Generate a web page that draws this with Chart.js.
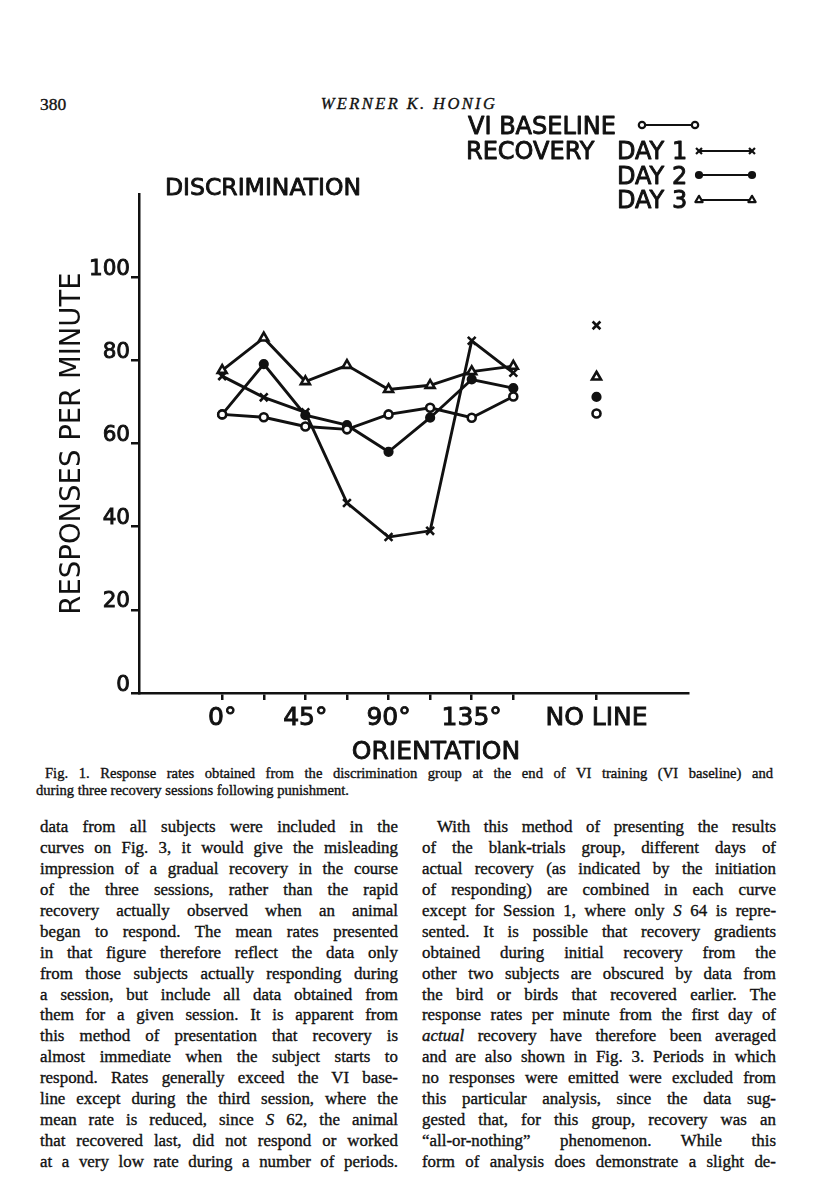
<!DOCTYPE html>
<html><head><meta charset="utf-8">
<script src="https://cdn.jsdelivr.net/npm/chart.js@4.4.1/dist/chart.umd.min.js"></script>
<style>
html,body{margin:0;padding:0;background:#fff;}
body{width:816px;height:1200px;position:relative;overflow:hidden;font-family:"Liberation Serif","Times New Roman",serif;color:#111;-webkit-text-stroke:0.35px #111;}
#wrap{position:absolute;left:0;top:0;width:816px;height:800px;z-index:2;}
.hdr{position:absolute;top:94px;font-size:17px;line-height:20px;}
#pg{left:40px;font-size:17.5px;}
#au{left:0;width:818px;text-align:center;font-style:italic;letter-spacing:2.4px;font-size:16.5px;}
#cap{position:absolute;left:36px;top:765px;width:737px;font-size:14.6px;line-height:17px;}
.col{position:absolute;top:817px;font-size:16.9px;line-height:20.93px;}
.ln{white-space:nowrap;text-align:justify;text-align-last:justify;}
#lc{left:40px;width:358px;}
#rc{left:422px;width:354px;}
</style></head>
<body>
<div class="hdr" id="pg">380</div>
<div class="hdr" id="au">WERNER K. HONIG</div>
<div id="wrap"><canvas id="c" width="816" height="800"></canvas></div>
<div id="cap">
<div class="ln" style="padding-left:9px">Fig. 1. Response rates obtained from the discrimination group at the end of VI training (VI baseline) and</div>
<div>during three recovery sessions following punishment.</div>
</div>
<div class="col" id="lc">
<div class="ln">data from all subjects were included in the</div>
<div class="ln">curves on Fig. 3, it would give the misleading</div>
<div class="ln">impression of a gradual recovery in the course</div>
<div class="ln">of the three sessions, rather than the rapid</div>
<div class="ln">recovery actually observed when an animal</div>
<div class="ln">began to respond. The mean rates presented</div>
<div class="ln">in that figure therefore reflect the data only</div>
<div class="ln">from those subjects actually responding during</div>
<div class="ln">a session, but include all data obtained from</div>
<div class="ln">them for a given session. It is apparent from</div>
<div class="ln">this method of presentation that recovery is</div>
<div class="ln">almost immediate when the subject starts to</div>
<div class="ln">respond. Rates generally exceed the VI base-</div>
<div class="ln">line except during the third session, where the</div>
<div class="ln">mean rate is reduced, since <i>S</i> 62, the animal</div>
<div class="ln">that recovered last, did not respond or worked</div>
<div class="ln">at a very low rate during a number of periods.</div>
</div>
<div class="col" id="rc">
<div class="ln" style="padding-left:15px">With this method of presenting the results</div>
<div class="ln">of the blank-trials group, different days of</div>
<div class="ln">actual recovery (as indicated by the initiation</div>
<div class="ln">of responding) are combined in each curve</div>
<div class="ln">except for Session 1, where only <i>S</i> 64 is repre-</div>
<div class="ln">sented. It is possible that recovery gradients</div>
<div class="ln">obtained during initial recovery from the</div>
<div class="ln">other two subjects are obscured by data from</div>
<div class="ln">the bird or birds that recovered earlier. The</div>
<div class="ln">response rates per minute from the first day of</div>
<div class="ln"><i>actual</i> recovery have therefore been averaged</div>
<div class="ln">and are also shown in Fig. 3. Periods in which</div>
<div class="ln">no responses were emitted were excluded from</div>
<div class="ln">this particular analysis, since the data sug-</div>
<div class="ln">gested that, for this group, recovery was an</div>
<div class="ln">“all-or-nothing” phenomenon. While this</div>
<div class="ln">form of analysis does demonstrate a slight de-</div>
</div>
<script>
// ---- data ----
const orientations = ['0°','22.5°','45°','67.5°','90°','112.5°','135°','157.5°','NO LINE'];
const positions    = [0, 1, 2, 3, 4, 5, 6, 7, 9];
const tickPositions = [0, 1, 2, 3, 4, 5, 6, 7, 9];
const tickLabels = {0:'0°', 2:'45°', 4:'90°', 6:'135°', 9:'NO LINE'};
const yTicks = [0, 20, 40, 60, 80, 100];
const viBaseline = [67.0, 66.3, 64.1, 63.4, 67.0, 68.6, 66.2, 71.3, 67.2];
const day1       = [76.2, 71.1, 67.5, 45.7, 37.5, 39.0, 84.7, 77.0, 88.4];
const day2       = [67.0, 79.1, 66.8, 64.4, 58.0, 66.2, 75.4, 73.3, 71.2];
const day3       = [77.6, 85.4, 74.9, 78.8, 73.0, 74.0, 77.3, 78.6, 76.0];
const legendLabels = ['VI BASELINE', 'DAY 1', 'DAY 2', 'DAY 3'];
const INK = '#111';

function toPoints(vals){
  const pts = [];
  vals.forEach((v, i) => {
    if (positions[i] === 9) pts.push({x: 8, y: null});
    pts.push({x: positions[i], y: v});
  });
  return pts;
}
function ds(label, vals, style, radius, fill){
  return {label, data: toPoints(vals), borderColor: INK, borderWidth: 2.9,
    pointStyle: style, pointRadius: radius, pointHoverRadius: radius,
    pointBackgroundColor: fill, pointBorderColor: INK, pointBorderWidth: 2.6,
    tension: 0, fill: false, spanGaps: false};
}
const datasets = [
  ds(legendLabels[0], viBaseline, 'circle', 4, '#fff'),
  ds(legendLabels[1], day1, 'crossRot', 5.5, INK),
  ds(legendLabels[2], day2, 'circle', 3.8, INK),
  ds(legendLabels[3], day3, 'triangle', 5.2, '#fff')
];

function marker(ctx, style, r, fill, x, y){
  ctx.save();
  ctx.fillStyle = fill; ctx.strokeStyle = INK; ctx.lineWidth = 2.2;
  if (Chart.helpers && Chart.helpers.drawPoint) {
    Chart.helpers.drawPoint(ctx, {pointStyle: style, radius: r, borderWidth: 2.2, rotation: 0}, x, y);
  }
  ctx.restore();
}

function txt(ctx, s, x, y){
  ctx.fillText(s, x, y);
  ctx.strokeText(s, x, y);
}

const annot = {
  id: 'annot',
  afterDraw(chart){
    const ctx = chart.ctx;
    ctx.save();
    ctx.fillStyle = INK; ctx.strokeStyle = INK; ctx.lineWidth = 0.9; ctx.lineJoin = 'round';
    ctx.textBaseline = 'alphabetic';
    ctx.textAlign = 'left';
    ctx.font = '24px "DejaVu Sans"';
    txt(ctx, legendLabels[0], 468, 134);
    txt(ctx, 'RECOVERY', 466, 159);
    txt(ctx, legendLabels[1], 617, 159);
    txt(ctx, legendLabels[2], 617, 184);
    txt(ctx, legendLabels[3], 617, 208);
    ctx.font = '23.5px "DejaVu Sans"';
    txt(ctx, 'DISCRIMINATION', 165, 195);
    ctx.textAlign = 'center';
    ctx.font = '25px "DejaVu Sans"';
    txt(ctx, 'ORIENTATION', 436, 759);
    const samples = [[642, 695, 125], [699, 752, 151], [699, 752, 175], [699, 752, 200]];
    const rs = [3.2, 4.2, 3, 4.2];
    chart.data.datasets.forEach((d, i) => {
      const [x1, x2, y] = samples[i];
      ctx.strokeStyle = INK; ctx.lineWidth = 2.2;
      ctx.beginPath(); ctx.moveTo(x1, y); ctx.lineTo(x2, y); ctx.stroke();
      marker(ctx, d.pointStyle, rs[i], d.pointBackgroundColor, x1, y);
      marker(ctx, d.pointStyle, rs[i], d.pointBackgroundColor, x2, y);
    });
    ctx.restore();
  }
};

new Chart(document.getElementById('c'), {
  type: 'line',
  data: {datasets},
  options: {
    responsive: false, animation: false, devicePixelRatio: 1,
    layout: {padding: {left: 0, right: 128, top: 194, bottom: 0}},
    plugins: {legend: {display: false}, tooltip: {enabled: false}},
    scales: {
      x: {
        type: 'linear', min: -2, max: 11.2,
        afterBuildTicks: s => { s.ticks = tickPositions.map(v => ({value: v})); },
        afterFit: s => { s.height = 107; },
        ticks: {callback: v => tickLabels[v] || '', autoSkip: false, maxRotation: 0,
          font: {family: 'DejaVu Sans', size: 25}, color: INK, padding: 3,
          textStrokeColor: INK, textStrokeWidth: 0.9},
        grid: {drawOnChartArea: false, drawTicks: true, tickLength: 7, color: INK, lineWidth: 2.5},
        border: {display: true, color: INK, width: 2.5}
      },
      y: {
        min: 0, max: 120,
        afterBuildTicks: s => { s.ticks = yTicks.map(v => ({value: v})); },
        afterFit: s => { s.width = 139; },
        ticks: {font: {family: 'DejaVu Sans', size: 21.5}, color: INK, padding: 1, labelOffset: -8,
          textStrokeColor: INK, textStrokeWidth: 0.9},
        grid: {drawOnChartArea: false, drawTicks: true, tickLength: 8, color: INK, lineWidth: 2.5},
        border: {display: true, color: INK, width: 2.5},
        title: {display: true, text: 'RESPONSES PER MINUTE', color: INK,
          font: {family: 'DejaVu Sans', size: 27.5}, padding: {top: 56, bottom: 0}}
      }
    }
  },
  plugins: [annot]
});
</script>
</body></html>
